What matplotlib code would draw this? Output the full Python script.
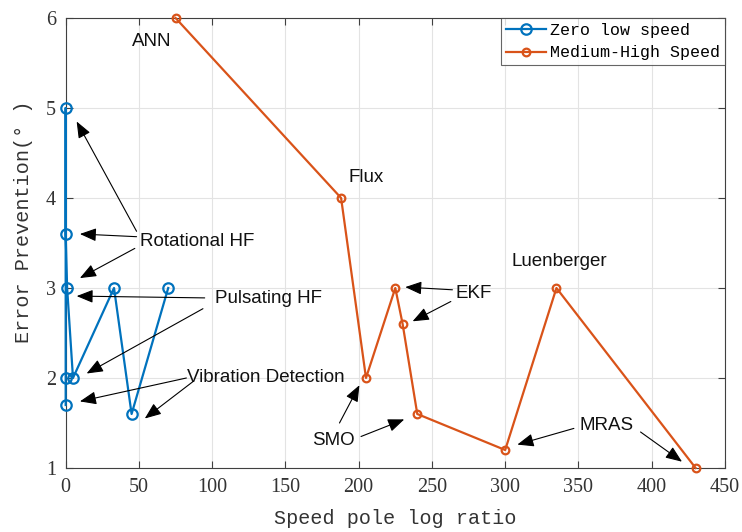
#-*- coding: utf-8 -*-
# ----- Include library -----
import matplotlib
matplotlib.use("Agg")
import matplotlib.pyplot as plt

# ----- Data -----
low_x = [0, 0, 0, 0, 1, 5, 33, 45, 70]
low_y = [1.7, 2, 5, 3.6, 3, 2, 3, 1.6, 3]

high_x = [75, 188, 205, 225, 230, 240, 300, 335, 430]
high_y = [6, 4, 2, 3, 2.6, 1.6, 1.2, 3, 1]

series_names = ["Zero low speed", "Medium-High Speed"]

x_ticks = [0, 50, 100, 150, 200, 250, 300, 350, 400, 450]
y_ticks = [1, 2, 3, 4, 5, 6]

# label text, position, alignment
labels = [
    ("ANN", (59, 5.74), "center"),
    ("Flux", (205, 4.23), "center"),
    ("Luenberger", (337, 3.29), "center"),
    ("Rotational HF", (51, 3.52), "left"),
    ("Pulsating HF", (102, 2.88), "left"),
    ("Vibration Detection", (83, 2.01), "left"),
    ("SMO", (183, 1.30), "center"),
    ("EKF", (266, 2.94), "left"),
    ("MRAS", (369, 1.47), "center"),
]

# arrows : (tail, head)
arrows = [
    ((48.4, 3.63), (7.5, 4.85)),
    ((48.4, 3.57), (9.7, 3.60)),
    ((47.2, 3.44), (9.7, 3.11)),
    ((94.9, 2.89), (7.5, 2.91)),
    ((93.7, 2.77), (14.3, 2.05)),
    ((82.4, 2.00), (9.7, 1.74)),
    ((86.9, 1.96), (54.0, 1.55)),
    ((186.9, 1.50), (200.5, 1.92)),
    ((201.6, 1.35), (231.1, 1.54)),
    ((264.0, 2.98), (231.8, 3.01)),
    ((262.9, 2.85), (236.8, 2.63)),
    ((346.9, 1.44), (308.3, 1.26)),
    ((392.4, 1.40), (420.7, 1.07)),
]

BLUE = "#0072BD"
ORANGE = "#D95319"
AXCOL = "#404040"
LABEL_FONT = "Liberation Mono"
TICK_FONT = "Liberation Serif"
NOTE_FONT = "Liberation Sans"


def main_proc():
    fig = plt.figure(figsize=(7.42, 5.32), dpi=100)
    ax = fig.add_axes([0.0885, 0.1203, 0.8885, 0.8459])

    ax.plot(low_x, low_y, "-o", color=BLUE, lw=1.6, ms=7.5,
            mfc="none", mew=1.6, label=series_names[0], zorder=4, clip_on=False)
    ax.plot(high_x, high_y, "-o", color=ORANGE, lw=1.6, ms=5.5,
            mfc="none", mew=1.6, label=series_names[1], zorder=4, clip_on=False)

    ax.set_xlim(0, 450)
    ax.set_ylim(1, 6)
    ax.set_xticks(x_ticks)
    ax.set_yticks(y_ticks)
    ax.grid(True, color="#e3e3e3", lw=0.8)
    ax.set_axisbelow(True)

    for s in ax.spines.values():
        s.set_color(AXCOL)
        s.set_linewidth(0.8)
    ax.tick_params(direction="in", top=True, right=True, length=5,
                   color=AXCOL, labelcolor="#333333", labelsize=14.5, pad=7)
    for t in ax.get_xticklabels() + ax.get_yticklabels():
        t.set_family(TICK_FONT)

    ax.set_xlabel("Speed pole log ratio", family=LABEL_FONT,
                  fontsize=14.5, color="#333333", labelpad=9)
    ax.set_ylabel("Error Prevention(° )", family=LABEL_FONT,
                  fontsize=14.5, color="#333333")
    ax.yaxis.set_label_coords(-0.05, 0.548)

    # annotations
    for txt, pos, ha in labels:
        ax.text(pos[0], pos[1], txt, ha=ha, va="center",
                family=NOTE_FONT, fontsize=13.5, color="#111111", zorder=5)
    for tail, head in arrows:
        ax.annotate("", xy=head, xytext=tail,
                    arrowprops=dict(arrowstyle="-|>,head_length=0.5,head_width=0.2",
                                    color="black", lw=0.8, mutation_scale=20,
                                    shrinkA=0, shrinkB=0), zorder=5)

    leg = ax.legend(loc="upper right", prop={"family": LABEL_FONT, "size": 12},
                    frameon=True, fancybox=False, borderaxespad=0,
                    handlelength=2.4, handletextpad=0.25, borderpad=0.3,
                    labelspacing=0.45)
    leg.get_frame().set_edgecolor(AXCOL)
    leg.get_frame().set_linewidth(0.8)
    leg.set_zorder(6)

    fig.savefig("out.png", dpi=100)


if __name__ == '__main__':
    main_proc()
